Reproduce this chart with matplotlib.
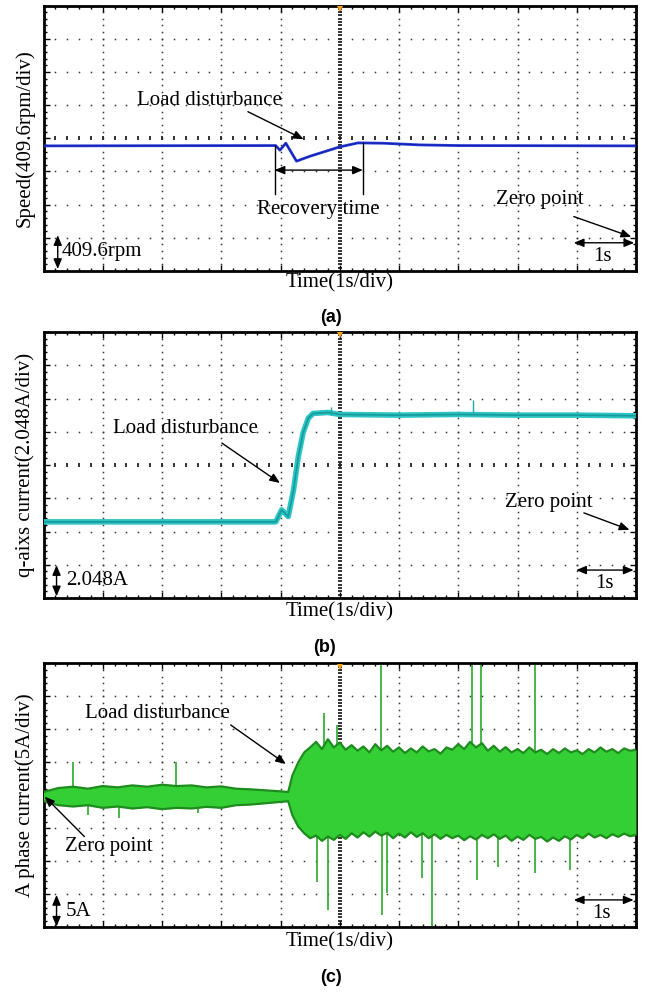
import matplotlib
matplotlib.use('Agg')
import matplotlib.pyplot as plt
import numpy as np
from matplotlib.ticker import MultipleLocator

# ---------------- data (screen divisions: x 0..10, y 0..8) ----------------
# (a) speed trace
speed_t = [0.0, 3.92, 3.99, 4.09, 4.27, 4.50, 5.00, 5.31, 5.73, 6.35, 7.0, 10.0]
speed_v = [3.77, 3.78, 3.64, 3.85, 3.31, 3.46, 3.74, 3.86, 3.85, 3.80, 3.78, 3.77]

# (b) q-axis current trace
iq_t = [0.0, 3.92, 4.02, 4.13, 4.22, 4.30, 4.38, 4.47, 4.55, 4.8, 5.0, 6.0, 7.0, 8.0, 9.0, 10.0]
iq_v = [2.29, 2.29, 2.65, 2.45, 3.25, 4.25, 4.96, 5.41, 5.55, 5.58, 5.52, 5.50, 5.52, 5.50, 5.50, 5.48]
iq_spike_t = [4.85, 7.25]
iq_spike_v = [5.75, 5.95]

# (c) phase current envelope
ia_t = [0.0, 0.25, 0.5, 0.75, 1.0, 1.25, 1.5, 1.75, 2.0, 2.25, 2.5, 2.75, 3.0, 3.25, 3.5, 3.75, 4.0, 4.13,
        4.2, 4.3, 4.4, 4.5, 4.6, 4.7, 4.8, 4.9, 5.0, 5.1, 5.2, 5.3, 5.4, 5.5, 5.6, 5.7, 5.8, 5.9,
        6.0, 6.1, 6.2, 6.3, 6.4, 6.5, 6.6, 6.7, 6.8, 6.9, 7.0, 7.1, 7.2, 7.3, 7.4, 7.5, 7.6, 7.7, 7.8, 7.9,
        8.0, 8.1, 8.2, 8.3, 8.4, 8.5, 8.6, 8.7, 8.8, 8.9, 9.0, 9.1, 9.2, 9.3, 9.4, 9.5, 9.6, 9.7, 9.8, 9.9, 10.0]
ia_up = [4.10, 4.22, 4.26, 4.20, 4.28, 4.24, 4.30, 4.26, 4.32, 4.28, 4.30, 4.24, 4.27, 4.20, 4.18, 4.15, 4.12, 4.10,
         4.60, 5.00, 5.30, 5.45, 5.62, 5.40, 5.70, 5.45, 5.60, 5.38, 5.52, 5.35, 5.48, 5.30, 5.55, 5.36, 5.50, 5.32,
         5.45, 5.28, 5.42, 5.30, 5.48, 5.33, 5.40, 5.26, 5.45, 5.38, 5.55, 5.40, 5.62, 5.45, 5.58, 5.35, 5.50, 5.32, 5.46, 5.30,
         5.40, 5.28, 5.45, 5.30, 5.38, 5.25, 5.40, 5.28, 5.42, 5.30, 5.36, 5.25, 5.40, 5.30, 5.45, 5.32, 5.40, 5.28, 5.42, 5.35, 5.38]
ia_lo = [3.82, 3.70, 3.66, 3.70, 3.62, 3.66, 3.60, 3.64, 3.58, 3.62, 3.60, 3.65, 3.62, 3.70, 3.72, 3.76, 3.80, 3.82,
         3.40, 3.05, 2.85, 2.70, 2.78, 2.62, 2.75, 2.65, 2.80, 2.68, 2.85, 2.72, 2.88, 2.75, 2.90, 2.78, 2.86, 2.70,
         2.84, 2.72, 2.88, 2.74, 2.85, 2.70, 2.82, 2.68, 2.80, 2.70, 2.78, 2.64, 2.76, 2.66, 2.80, 2.70, 2.82, 2.68, 2.78, 2.62,
         2.75, 2.65, 2.80, 2.68, 2.74, 2.60, 2.72, 2.62, 2.76, 2.66, 2.80, 2.70, 2.84, 2.72, 2.80, 2.70, 2.82, 2.74, 2.84, 2.76, 2.80]
ia_center = 3.97
ia_spike_t = [0.50, 2.24, 4.74, 4.96, 5.69, 7.24, 7.39, 8.30,
              1.28, 0.75, 2.60, 4.61, 4.80, 5.71, 5.79, 6.38, 6.56, 7.32, 7.67, 8.30, 8.88]
ia_spike_v = [5.02, 5.02, 6.50, 6.13, 8.00, 8.00, 8.00, 8.00,
              3.30, 3.40, 3.45, 1.38, 0.52, 0.37, 1.04, 1.49, 0.00, 1.44, 1.83, 1.64, 1.74]

ylabels = ['Speed(409.6rpm/div)', 'q-aixs current(2.048A/div)', 'A phase current(5A/div)']
scale_labels = ['409.6rpm', '2.048A', '5A']
panel_labels = ['(a)', '(b)', '(c)']

# ---------------- layout ----------------
W, H = 648, 992
fig = plt.figure(figsize=(W / 100, H / 100), dpi=100)
SERIF = ['Liberation Serif', 'DejaVu Serif']
SANS = ['Liberation Sans', 'DejaVu Sans']
FS = 15

boxes = [(43.5, 5.5, 636, 271), (43.5, 332, 636, 598), (43.5, 663.3, 636, 927.3)]
xlabel_y = [283.3, 611.7, 941.7]
panel_label_pos = [(331, 318), (324, 647), (331, 977)]


def fx(x):
    return x / W


def fy(y):
    return 1 - y / H


def make_ax(b):
    l, t, r, bt = b
    ax = fig.add_axes([l / W, 1 - bt / H, (r - l) / W, (bt - t) / H])
    ax.set_xlim(0, 10)
    ax.set_ylim(0, 8)
    ax.xaxis.set_major_locator(MultipleLocator(1))
    ax.yaxis.set_major_locator(MultipleLocator(1))
    ax.xaxis.set_minor_locator(MultipleLocator(0.2))
    ax.yaxis.set_minor_locator(MultipleLocator(0.2))
    ax.tick_params(which='both', direction='in', top=True, right=True,
                   labelbottom=False, labelleft=False, color='k', width=1)
    ax.tick_params(which='major', length=4.5)
    ax.tick_params(which='minor', length=2.5)
    for s in ax.spines.values():
        s.set_linewidth(2.0)
    # dotted graticule
    fine = np.arange(0.2, 8.0, 0.2)
    fine_x = np.arange(0.2, 10.0, 0.2)
    for gx in [1, 2, 3, 4, 6, 7, 8, 9]:
        ax.plot(np.full(len(fine), gx), fine, ls='none', marker='s', ms=1.1,
                mew=0, color='#333333', zorder=1)
    for gy in [1, 2, 3, 5, 6, 7]:
        ax.plot(fine_x, np.full(len(fine_x), gy), ls='none', marker='s', ms=1.1,
                mew=0, color='#333333', zorder=1)
    # centre axes with ticks
    cy = np.arange(0.1, 8.0, 0.1)
    cx = np.arange(0.2, 10.0, 0.2)
    ax.plot(np.full(len(cy), 5), cy, ls='none', marker='_', ms=3.5, mew=1.3,
            color='#222222', zorder=1)
    ax.plot(cx, np.full(len(cx), 4), ls='none', marker='|', ms=3.5, mew=1.3,
            color='#222222', zorder=1)
    # trigger marker
    ax.plot([5], [7.9], marker='v', ms=5, color='#f5a31e', mew=0, zorder=5, clip_on=False)
    return ax


def arrow(ax, start, end, style='-|>'):
    ax.annotate('', xy=end, xytext=start,
                arrowprops=dict(arrowstyle=style + ',head_length=0.6,head_width=0.25',
                                color='k', lw=1.0, shrinkA=0, shrinkB=0), zorder=6)


def txt(ax, x, y, s, ha='center'):
    ax.text(x, y, s, ha=ha, va='center', fontsize=FS, family=SERIF, zorder=6)


axes = [make_ax(b) for b in boxes]

for i, ax in enumerate(axes):
    l, t, r, bt = boxes[i]
    fig.text(fx(340), fy(xlabel_y[i]), 'Time(1s/div)', ha='center', va='center',
             fontsize=FS, family=SERIF)
    fig.text(fx(25), fy((t + bt) / 2), ylabels[i], ha='center', va='center',
             rotation=90, fontsize=FS, family=SERIF)
    px, py = panel_label_pos[i]
    fig.text(fx(px), fy(py), panel_labels[i], ha='center', va='center',
             fontsize=13, family=SANS, fontweight='bold')

# ---- (a) ----
ax = axes[0]
ax.plot(speed_t, speed_v, color='#2a3bd6', lw=2.0, zorder=3)
ax.plot(speed_t, speed_v, color='#1020b0', lw=0.8, zorder=3)
txt(ax, 2.80, 5.15, 'Load disturbance')
arrow(ax, (3.45, 4.80), (4.39, 3.97))
ax.plot([3.90, 3.90], [3.77, 2.32], color='k', lw=1.0, zorder=4)
ax.plot([5.39, 5.39], [3.86, 2.32], color='k', lw=1.0, zorder=4)
arrow(ax, (3.90, 3.04), (5.39, 3.04), style='<|-|>')
txt(ax, 4.64, 1.86, 'Recovery time')
txt(ax, 8.37, 2.14, 'Zero point')
arrow(ax, (8.95, 1.64), (9.92, 1.03))
arrow(ax, (0.24, 0.58), (0.24, 1.08))
arrow(ax, (0.24, 0.58), (0.24, 0.06))
txt(ax, 0.31, 0.58, scale_labels[0], ha='left')
arrow(ax, (8.95, 0.85), (9.97, 0.85), style='<|-|>')
txt(ax, 9.44, 0.45, '1s')

# ---- (b) ----
ax = axes[1]
ax.plot(iq_t, iq_v, color='#2cc4c4', lw=4.0, zorder=3, solid_joinstyle='round')
ax.plot(iq_t, iq_v, color='#169a9a', lw=1.2, zorder=3)
ax.vlines(iq_spike_t, 5.5, iq_spike_v, color='#1fa8a8', lw=1.0, zorder=3)
txt(ax, 2.39, 5.11, 'Load disturbance')
arrow(ax, (3.01, 4.66), (3.99, 3.46))
txt(ax, 8.53, 2.86, 'Zero point')
arrow(ax, (9.12, 2.56), (9.89, 2.05))
arrow(ax, (0.22, 0.52), (0.22, 0.99))
arrow(ax, (0.22, 0.52), (0.22, 0.05))
txt(ax, 0.38, 0.54, scale_labels[1], ha='left')
arrow(ax, (8.99, 0.84), (9.96, 0.84), style='<|-|>')
txt(ax, 9.46, 0.45, '1s')

# ---- (c) ----
ax = axes[2]
ax.vlines(ia_spike_t, ia_center, ia_spike_v, color='#2aa82a', lw=1.2, zorder=2)
ax.fill_between(ia_t, ia_lo, ia_up, color='#34cf34', lw=0, zorder=3)
ax.plot(ia_t, ia_up, color='#1d8c1d', lw=1.6, zorder=3)
ax.plot(ia_t, ia_lo, color='#1d8c1d', lw=1.6, zorder=3)
txt(ax, 1.93, 6.48, 'Load disturbance')
arrow(ax, (3.16, 6.13), (4.09, 4.95))
txt(ax, 1.11, 2.44, 'Zero point')
arrow(ax, (0.69, 2.75), (0.02, 3.96))
arrow(ax, (0.22, 0.50), (0.22, 0.98))
arrow(ax, (0.22, 0.50), (0.22, 0.02))
txt(ax, 0.38, 0.47, scale_labels[2], ha='left')
arrow(ax, (8.95, 0.83), (9.96, 0.83), style='<|-|>')
txt(ax, 9.42, 0.42, '1s')

fig.savefig('out.png', dpi=100)
